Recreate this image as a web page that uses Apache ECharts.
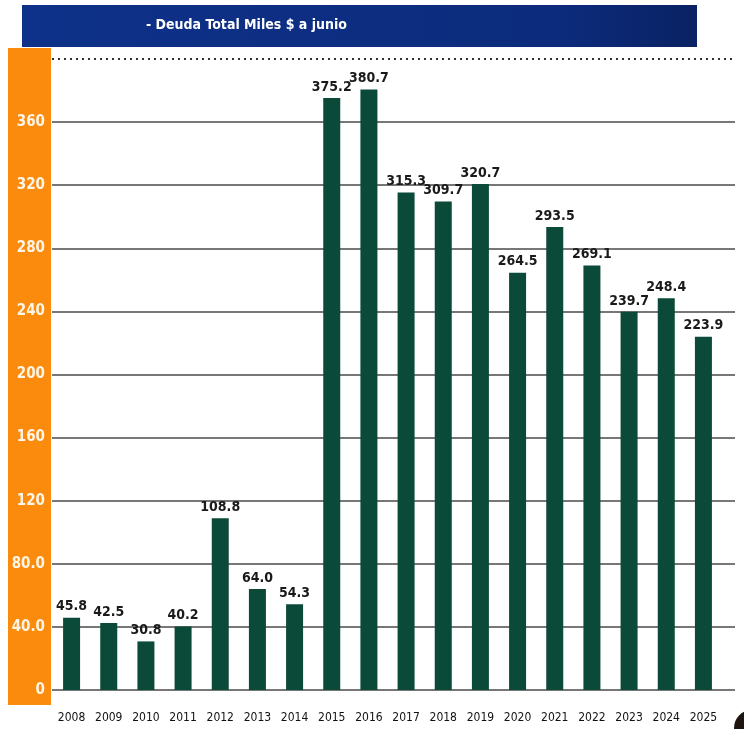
<!DOCTYPE html>
<html>
<head>
<meta charset="utf-8">
<script src="https://cdn.jsdelivr.net/npm/echarts@6/dist/echarts.min.js"></script>
<style>
  html, body { margin: 0; padding: 0; background: #ffffff; }
  #chart { width: 744px; height: 729px; }
</style>
</head>
<body>
<div id="chart"></div>
<script>
// Deuda total (miles de $) a junio de cada año
const years = ['2008','2009','2010','2011','2012','2013','2014','2015','2016',
               '2017','2018','2019','2020','2021','2022','2023','2024','2025'];
const debt = [45.8, 42.5, 30.8, 40.2, 108.8, 64.0, 54.3, 375.2, 380.7,
              315.3, 309.7, 320.7, 264.5, 293.5, 269.1, 239.7, 248.4, 223.9];
const yTicks = [0, 40, 80, 120, 160, 200, 240, 280, 320, 360, 400];
const titleText = '- Deuda Total Miles $ a junio';

const narrow = '"DejaVu Sans Condensed", "Liberation Sans Narrow", sans-serif';
const yMin = yTicks[0];
const yMax = yTicks[yTicks.length - 1];
const yStep = yTicks[1] - yTicks[0];

const chart = echarts.init(document.getElementById('chart'), null, { renderer: 'canvas' });

const gridTop = 59, gridBottom = 39;

chart.setOption({
  animation: false,
  backgroundColor: '#ffffff',
  graphic: [
    // title band
    { type: 'rect', z: 0, shape: { x: 22, y: 5, width: 675, height: 42 },
      style: { fill: new echarts.graphic.LinearGradient(0, 0, 1, 0, [
        { offset: 0, color: '#0e3189' }, { offset: 0.8, color: '#0c2b7c' }, { offset: 1, color: '#0a2263' }]) } },
    { type: 'text', z: 1, left: 146, top: 18,
      style: { text: titleText, fill: '#ffffff', font: 'bold 14px ' + narrow } },
    // orange axis band
    { type: 'rect', z: 0, shape: { x: 8, y: 48, width: 43, height: 657 },
      style: { fill: '#fb8b0c' } },
    // dark corner mark
    { type: 'circle', z: 0, shape: { cx: 752, cy: 728, r: 18 }, style: { fill: '#1e1410' } }
  ],
  grid: [
    { left: 53, right: 22, top: gridTop, bottom: gridBottom },
    { left: 52, right: 9, top: gridTop, bottom: gridBottom }
  ],
  xAxis: [
    { type: 'category', gridIndex: 0, data: years,
      axisLine: { show: false }, axisTick: { show: false },
      axisLabel: { color: '#111', fontSize: 12, fontFamily: narrow, margin: 22 } },
    { type: 'value', gridIndex: 1, show: false, min: 0, max: 1 }
  ],
  yAxis: [
    { type: 'value', gridIndex: 0, min: yMin, max: yMax, interval: yStep, show: false },
    { type: 'value', gridIndex: 1, min: yMin, max: yMax, interval: yStep,
      axisLine: { show: false }, axisTick: { show: false },
      axisLabel: {
        color: '#fff5e6', fontWeight: 'bold', fontSize: 15, fontFamily: narrow, margin: 7,
        formatter: v => v === yMax ? '' : (v === 0 ? '0' : (v < 100 ? v.toFixed(1) : String(v)))
      },
      splitLine: { lineStyle: {
        color: yTicks.map(t => t === yMax ? 'rgba(0,0,0,0)' : '#4a4a4a'), width: 1.5 } } }
  ],
  series: [
    { type: 'bar', xAxisIndex: 0, yAxisIndex: 0, data: debt, barWidth: 17, z: 3,
      itemStyle: { color: '#0b4a38' },
      label: { show: true, position: 'top', distance: 4, color: '#1a1a1a',
        fontWeight: 'bold', fontSize: 14, fontFamily: narrow,
        formatter: p => p.value.toFixed(1) } },
    { type: 'line', xAxisIndex: 1, yAxisIndex: 1, data: [], silent: true,
      markLine: { symbol: 'none', silent: true, label: { show: false },
        lineStyle: { type: [2, 4], color: '#333', width: 2 },
        data: [[{ coord: [0, yMax] }, { coord: [1, yMax] }]] } }
  ]
});
</script>
</body>
</html>
